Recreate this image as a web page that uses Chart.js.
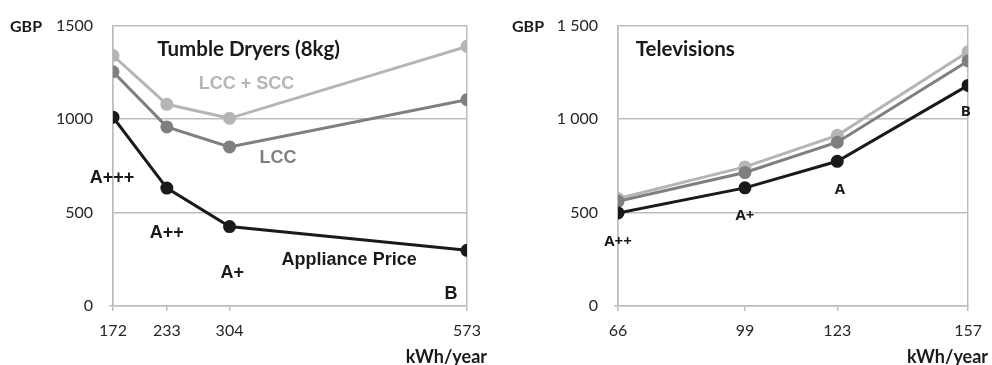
<!DOCTYPE html>
<html>
<head>
<meta charset="utf-8">
<script src="https://cdn.jsdelivr.net/npm/chart.js@4"></script>
<style>
    html, body { margin: 0; padding: 0; background: #fff; }
    #wrap { position: relative; width: 992px; height: 365px; }
    canvas { position: absolute; top: 0; }
    #dryers { left: 0; }
    #tvs { left: 496px; }
</style>
</head>
<body>
<div id="wrap">
    <canvas id="dryers" width="496" height="365"></canvas>
    <canvas id="tvs" width="496" height="365"></canvas>
</div>
<script>
(function () {
    'use strict';

    // ── Data ──────────────────────────────────────────────────────────────────
    var dryerKwh     = [172, 233, 304, 573];
    var dryerPrice   = [1010, 631, 425, 298];
    var dryerLcc     = [1253, 958, 851, 1104];
    var dryerLccScc  = [1340, 1079, 1004, 1389];
    var dryerClasses = ['A+++', 'A++', 'A+', 'B'];

    var tvKwh     = [66, 99, 123, 157];
    var tvPrice   = [498, 632, 774, 1180];
    var tvLcc     = [560, 714, 876, 1311];
    var tvLccScc  = [575, 744, 913, 1360];
    var tvClasses = ['A++', 'A+', 'A', 'B'];

    var yTicks = [0, 500, 1000, 1500];

    var BLACK = '#1a1a1a', MID = '#7f7f7f', LIGHT = '#b5b5b5', GRID = '#bdbdbd';
    var ARIAL = '"Liberation Sans", Arial, sans-serif';
    var CAL = 'Lato, "Open Sans", sans-serif';

    function pts(xs, ys) {
        return xs.map(function (x, i) { return { x: x, y: ys[i] }; });
    }

    function series(label, xs, ys, color) {
        return {
            label: label,
            data: pts(xs, ys),
            borderColor: color,
            backgroundColor: color,
            pointBackgroundColor: color,
            pointBorderColor: color,
            borderWidth: 3,
            pointRadius: 5,
            pointHoverRadius: 5,
            tension: 0
        };
    }

    // ── Text overlay plugin (titles, series names, energy classes) ────────────
    var notesPlugin = {
        id: 'notes',
        afterDraw: function (chart, args, opts) {
            var ctx = chart.ctx, xs = chart.scales.x, ys = chart.scales.y, a = chart.chartArea;
            ctx.save();
            ctx.textBaseline = 'middle';
            (opts.items || []).forEach(function (n) {
                ctx.font = n.font;
                ctx.fillStyle = n.color || BLACK;
                ctx.textAlign = n.align || 'center';
                ctx.fillText(n.text, xs.getPixelForValue(n.x), ys.getPixelForValue(n.y));
            });
            // axis captions
            ctx.font = 'bold 16px ' + CAL;
            ctx.fillStyle = BLACK;
            ctx.textAlign = 'left';
            ctx.fillText('GBP', opts.gbpX, a.top + 1);
            ctx.textAlign = 'right';
            ctx.font = 'bold 18px ' + CAL;
            ctx.fillText('kWh/year', a.right + 20, 357);
            ctx.restore();
        }
    };

    function makeChart(id, kwh, price, lcc, lccScc, yLeft, yFmt, notes, gbpX) {
        var last = kwh.length - 1;
        return new Chart(document.getElementById(id).getContext('2d'), {
            type: 'line',
            data: {
                datasets: [
                    series('Appliance Price', kwh, price, BLACK),
                    series('LCC', kwh, lcc, MID),
                    series('LCC + SCC', kwh, lccScc, LIGHT)
                ]
            },
            options: {
                responsive: false,
                animation: false,
                devicePixelRatio: 1,
                layout: { padding: { top: 20, left: 0, right: 496 - yLeft.right, bottom: 0 } },
                plugins: {
                    legend: { display: false },
                    tooltip: { enabled: false },
                    notes: { items: notes, gbpX: gbpX }
                },
                scales: {
                    x: {
                        type: 'linear',
                        min: kwh[0],
                        max: kwh[last],
                        afterBuildTicks: function (s) { s.ticks = kwh.map(function (v) { return { value: v }; }); },
                        afterFit: function (s) { s.height = 365 - 306; },
                        grid: {
                            color: function (c) { return (c.index === 0 || c.index === last) ? GRID : 'rgba(0,0,0,0)'; },
                            tickColor: GRID,
                            tickLength: 5,
                            lineWidth: 1.5
                        },
                        border: { color: GRID, width: 1.5 },
                        ticks: {
                            autoSkip: false,
                            maxRotation: 0,
                            padding: 10,
                            color: '#262626',
                            font: { family: CAL, size: 16 },
                            callback: function (v) { return String(v); }
                        }
                    },
                    y: {
                        min: 0,
                        max: 1500,
                        afterBuildTicks: function (s) { s.ticks = yTicks.map(function (v) { return { value: v }; }); },
                        afterFit: function (s) { s.width = yLeft.left; },
                        grid: {
                            color: GRID,
                            tickColor: function (c) { return c.index === 0 ? GRID : 'rgba(0,0,0,0)'; },
                            tickLength: 4,
                            lineWidth: 1.5
                        },
                        border: { color: GRID, width: 1.5 },
                        ticks: {
                            padding: 16,
                            color: '#262626',
                            font: { family: CAL, size: 16 },
                            callback: yFmt
                        }
                    }
                }
            },
            plugins: [notesPlugin]
        });
    }

    var big = 'bold 18px ' + ARIAL;
    var title = 'bold 20.5px ' + CAL;
    var small = 'bold 15px "Open Sans", sans-serif';

    makeChart('dryers', dryerKwh, dryerPrice, dryerLcc, dryerLccScc,
        { left: 113, right: 467 },
        function (v) { return String(v); },
        [
            { text: 'Tumble Dryers (8kg)', x: 222, y: 1372, font: title, align: 'left' },
            { text: 'LCC + SCC', x: 269, y: 1188, font: big, color: LIGHT, align: 'left' },
            { text: 'LCC', x: 338, y: 793, font: big, color: MID, align: 'left' },
            { text: 'Appliance Price', x: 363, y: 245, font: big, align: 'left' },
            { text: dryerClasses[0], x: 171, y: 687, font: big },
            { text: dryerClasses[1], x: 233, y: 393, font: big },
            { text: dryerClasses[2], x: 307, y: 174, font: big },
            { text: dryerClasses[3], x: 555, y: 65, font: big }
        ],
        10);

    makeChart('tvs', tvKwh, tvPrice, tvLcc, tvLccScc,
        { left: 122, right: 473 },
        function (v) { return v >= 1000 ? Math.floor(v / 1000) + ' ' + String(v % 1000).padStart(3, '0') : String(v); },
        [
            { text: 'Televisions', x: 70.6, y: 1372, font: title, align: 'left' },
            { text: tvClasses[0], x: 66, y: 346, font: small },
            { text: tvClasses[1], x: 99, y: 481, font: small },
            { text: tvClasses[2], x: 123.7, y: 623, font: small },
            { text: tvClasses[3], x: 156.4, y: 1040, font: small }
        ],
        16);
})();
</script>
</body>
</html>
